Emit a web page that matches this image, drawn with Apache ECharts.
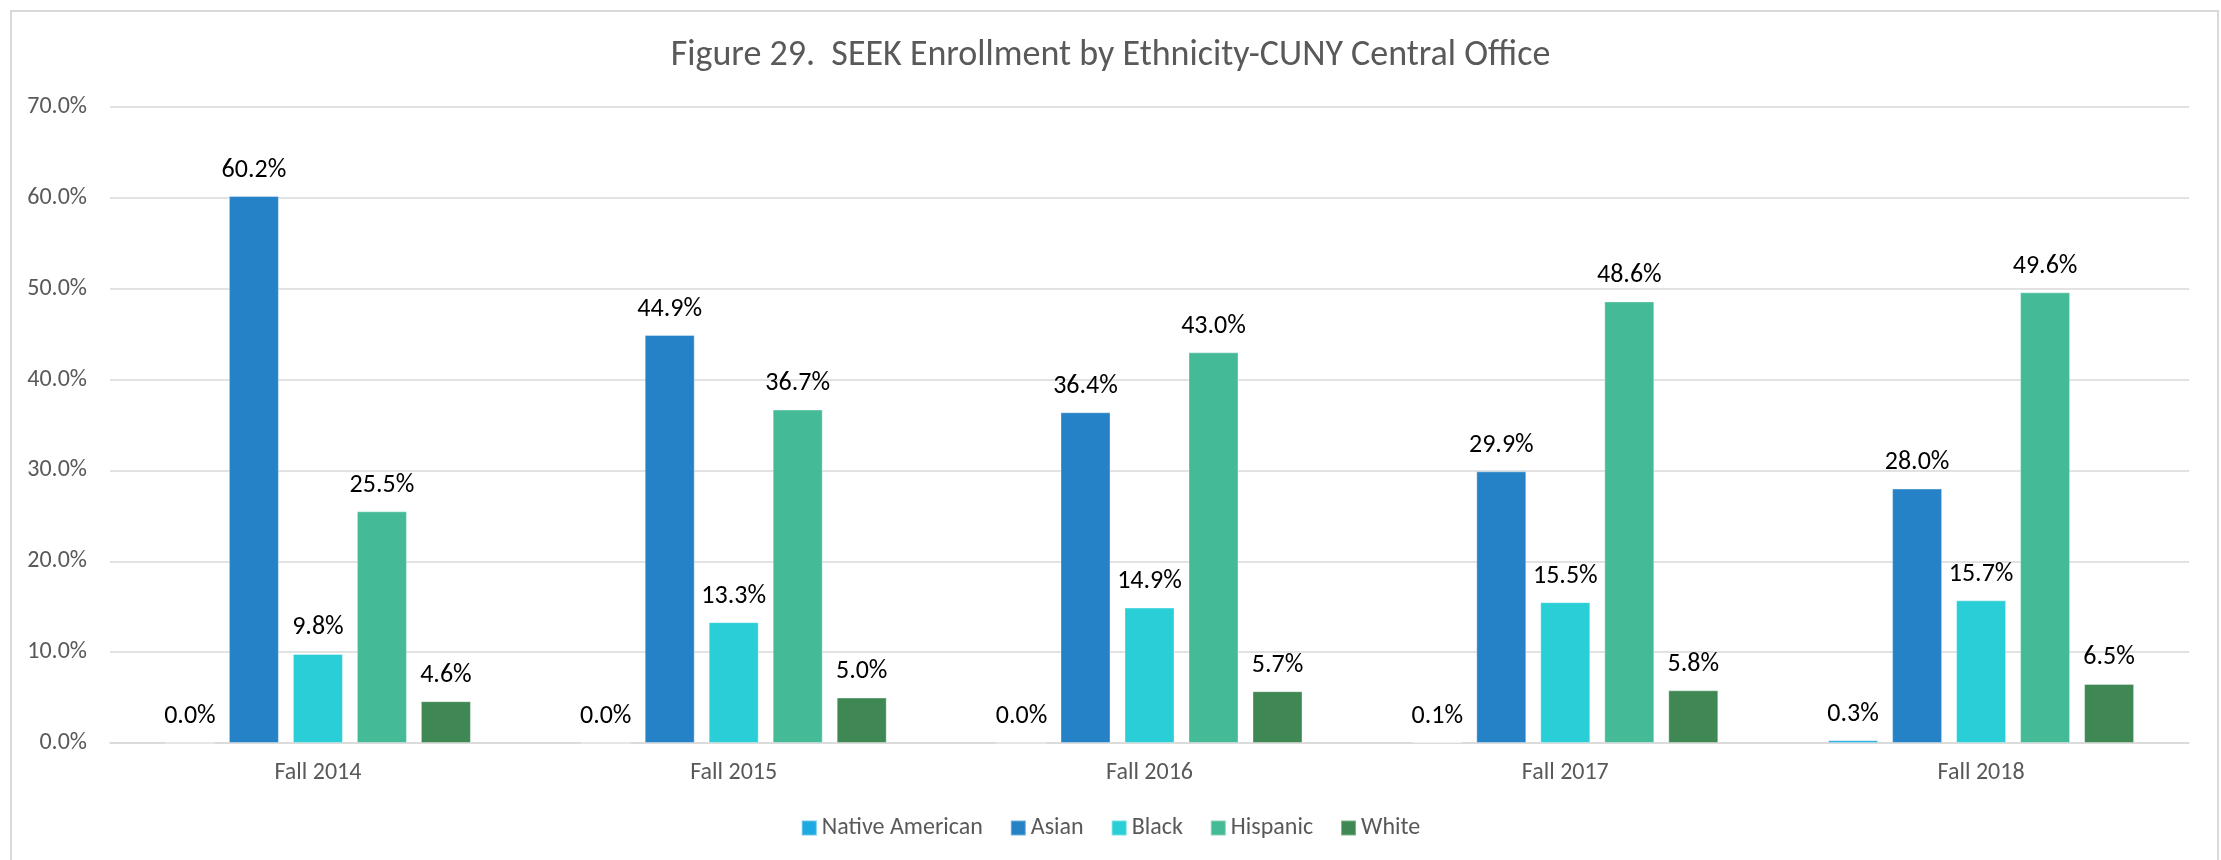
<!DOCTYPE html>
<html>
<head>
<meta charset="utf-8">
<script src="https://cdn.jsdelivr.net/npm/echarts@6/dist/echarts.min.js"></script>
<style>
  html, body { margin: 0; padding: 0; background: #fff; }
  #chart { width: 2221px; height: 860px; }
</style>
</head>
<body>
<div id="chart"></div>
<script>
const terms = ['Fall 2014', 'Fall 2015', 'Fall 2016', 'Fall 2017', 'Fall 2018'];
const nativeAmerican = [0.0, 0.0, 0.0, 0.1, 0.3];
const asian = [60.2, 44.9, 36.4, 29.9, 28.0];
const black = [9.8, 13.3, 14.9, 15.5, 15.7];
const hispanic = [25.5, 36.7, 43.0, 48.6, 49.6];
const white = [4.6, 5.0, 5.7, 5.8, 6.5];
const yTicks = [0, 10, 20, 30, 40, 50, 60, 70];

const FONT = "Carlito, 'Open Sans', sans-serif";
const GREY = '#595959';

const chart = echarts.init(document.getElementById('chart'));

const makeSeries = (name, data, color) => ({
  name,
  type: 'bar',
  data,
  barWidth: 50,
  barGap: '28%',
  itemStyle: { color, borderColor: 'rgba(255,255,255,0.35)', borderWidth: 1 },
  label: {
    show: true,
    position: 'top',
    distance: 13,
    color: '#000',
    fontFamily: FONT,
    fontSize: 26,
    formatter: p => p.value.toFixed(1) + '%'
  }
});

const option = {
  animation: false,
  backgroundColor: '#fff',
  title: {
    text: 'Figure 29.  SEEK Enrollment by Ethnicity-CUNY Central Office',
    left: 'center',
    top: 33,
    textStyle: { color: GREY, fontFamily: FONT, fontSize: 36, fontWeight: 'normal' }
  },
  graphic: [{
    type: 'rect',
    shape: { x: 11, y: 11, width: 2207, height: 880 },
    style: { fill: 'none', stroke: '#D9D9D9', lineWidth: 2 },
    silent: true
  }],
  legend: {
    top: 811,
    left: 'center',
    itemWidth: 15,
    itemHeight: 15,
    itemGap: 27,
    icon: 'rect',
    textStyle: { color: GREY, fontFamily: FONT, fontSize: 24 },
    data: ['Native American', 'Asian', 'Black', 'Hispanic', 'White']
  },
  grid: { left: 110, right: 32, top: 107, bottom: 117 },
  xAxis: {
    type: 'category',
    data: terms,
    axisTick: { show: false },
    axisLine: { lineStyle: { color: '#D9D9D9', width: 1.5 } },
    axisLabel: { color: GREY, fontFamily: FONT, fontSize: 24, margin: 18 }
  },
  yAxis: {
    type: 'value',
    min: yTicks[0],
    max: yTicks[yTicks.length - 1],
    interval: 10,
    axisLine: { show: false },
    axisTick: { show: false },
    splitLine: { lineStyle: { color: '#D9D9D9', width: 1.5 } },
    axisLabel: {
      color: GREY, fontFamily: FONT, fontSize: 24, margin: 23,
      formatter: v => v.toFixed(1) + '%'
    }
  },
  series: [
    makeSeries('Native American', nativeAmerican, '#1DAAE2'),
    makeSeries('Asian', asian, '#2682C7'),
    makeSeries('Black', black, '#29CED7'),
    makeSeries('Hispanic', hispanic, '#44BA96'),
    makeSeries('White', white, '#3F8854')
  ]
};

chart.setOption(option);
</script>
</body>
</html>
